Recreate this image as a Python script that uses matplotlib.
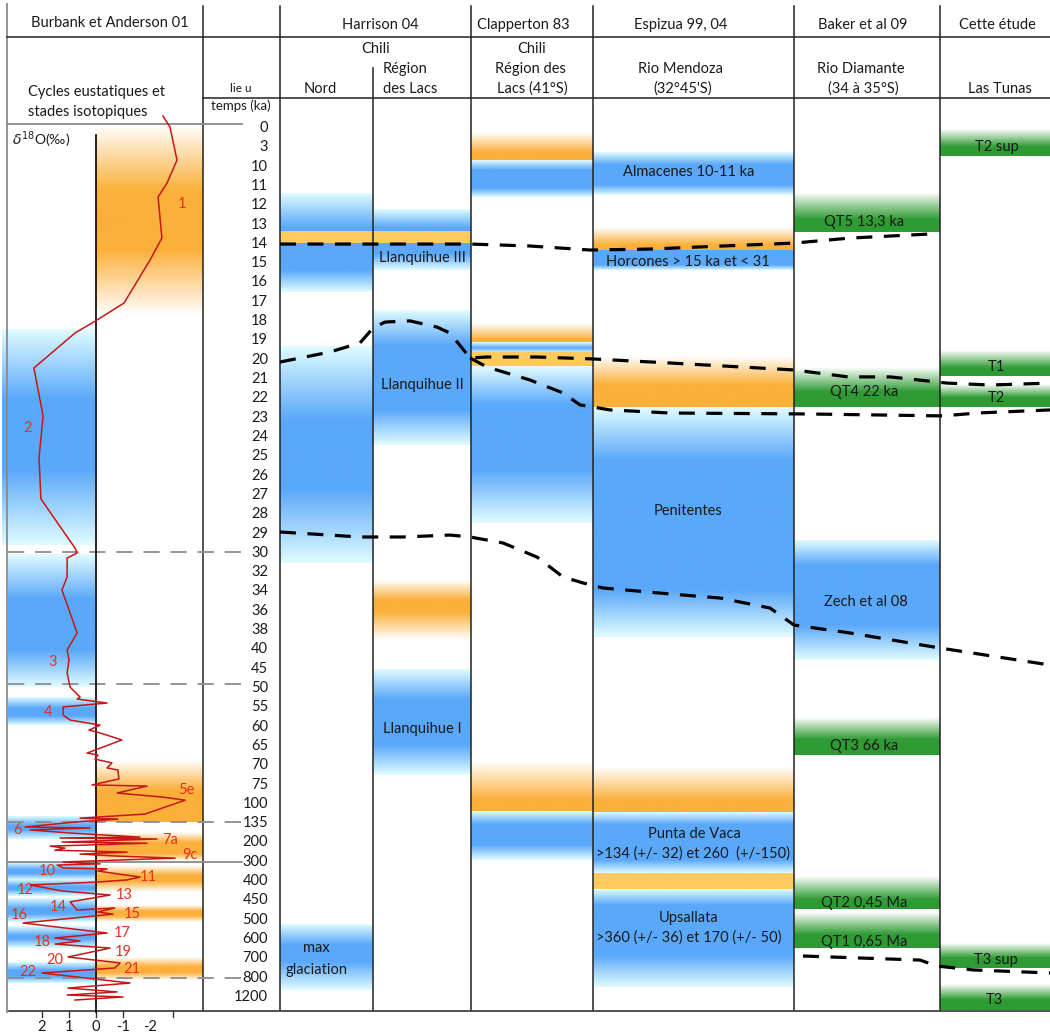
import numpy as np
import matplotlib
matplotlib.use("Agg")
import matplotlib.pyplot as plt
from matplotlib.colors import to_rgb

plt.rcParams["font.family"] = ["Lato", "DejaVu Sans"]

# ---------------------------------------------------------------------------
# layout (pixels) -- the time axis is one row per tick label
# ---------------------------------------------------------------------------
W, H = 1050, 1036
ROW0, ROW_H = 128.0, 19.31          # pixel y of the first row, row spacing
PERMIL_X0, PERMIL_PX = 96.0, 27.0   # pixel x of 0 permil, pixels per permil

def row(y_px):
    """pixel y -> time-row units (for layout items only)"""
    return (y_px - ROW0) / ROW_H

TIME_LABELS = ["0", "3", "10", "11", "12", "13", "14", "15", "16", "17", "18",
               "19", "20", "21", "22", "23", "24", "25", "26", "27", "28", "29",
               "30", "32", "34", "36", "38", "40", "45", "50", "55", "60", "65",
               "70", "75", "100", "135", "200", "300", "400", "450", "500",
               "600", "700", "800", "1200"]

# column x-ranges
COLS = {
    "cold_wide": (2, 95), "cold": (8, 95), "warm": (96, 203),
    "nord": (280, 373), "lacs": (373, 471), "clap": (471, 593),
    "espi": (593, 794), "baker": (794, 940), "etude": (940, 1050),
}

# ---------------------------------------------------------------------------
# data: bands as (kind, top, full_top, full_bottom, bottom) in time rows
# ---------------------------------------------------------------------------
ISO_STAGE2 = [("blue", 10.46, 14.09, 17.71, 21.60)]
ISO_COLD = [("blue", 22.11, 24.44, 27.03, 28.95),
            ("blue", 29.47, 30.05, 30.45, 30.92), ("blue", 35.68, 36.15, 36.35, 36.82),
            ("blue", 38.01, 38.40, 38.60, 38.94), ("blue", 38.94, 39.30, 39.45, 39.77),
            ("blue", 39.88, 40.40, 40.70, 41.12), ("blue", 41.38, 41.85, 42.00, 42.47),
            ("blue", 43.24, 43.65, 43.95, 44.28)]
ISO_WARM = [("orange", -0.21, 3.21, 6.32, 9.68), ("orange", 32.73, 34.28, 35.94, 35.94),
            ("orange", 36.46, 37.00, 37.60, 37.96), ("orange", 38.17, 38.70, 39.00, 39.56),
            ("orange", 40.24, 40.55, 40.80, 41.12), ("orange", 42.98, 43.45, 43.75, 44.12)]
NORD = [("blue", 3.42, 5.18, 5.39, 5.39), ("yellow", 5.39, 5.39, 5.96, 5.96),
        ("blue", 5.96, 5.96, 7.35, 8.49), ("blue", 11.34, 15.12, 18.75, 22.53),
        ("blue", 41.27, 42.31, 43.19, 44.64)]
LACS = [("blue", 4.25, 5.18, 5.39, 5.39), ("yellow", 5.39, 5.39, 5.96, 5.96),
        ("blue", 5.96, 5.96, 6.50, 7.35), ("blue", 9.43, 11.24, 14.60, 16.42),
        ("orange", 23.41, 24.44, 25.07, 26.51), ("blue", 28.07, 29.62, 31.95, 33.51)]
CLAP = [("orange", 0.26, 1.29, 1.66, 1.66), ("blue", 1.66, 2.18, 3.11, 3.57),
        ("orange", 10.10, 10.98, 11.13, 11.13), ("blue", 11.13, 11.40, 11.40, 11.65),
        ("yellow", 11.65, 11.65, 12.33, 12.33), ("blue", 12.33, 14.34, 17.71, 20.46),
        ("orange", 32.83, 34.80, 35.42, 35.42), ("blue", 35.42, 36.09, 37.13, 37.91)]
ESPI = [("blue", 1.29, 1.92, 2.95, 3.47), ("orange", 5.18, 6.06, 6.32, 6.32),
        ("blue", 6.32, 6.32, 7.09, 7.35), ("orange", 11.86, 13.31, 14.45, 14.45),
        ("blue", 14.45, 17.19, 23.93, 26.36), ("orange", 33.09, 34.80, 35.42, 35.42),
        ("blue", 35.47, 36.09, 37.91, 38.58), ("yellow", 38.63, 38.63, 39.41, 39.41),
        ("blue", 39.41, 40.24, 42.83, 44.48)]
BAKER = [("green", 3.37, 4.76, 5.39, 5.39), ("green", 12.38, 13.67, 14.45, 14.45),
         ("blue", 21.34, 22.63, 25.74, 27.55), ("green", 30.55, 31.69, 32.47, 32.47),
         ("green", 38.79, 39.98, 40.45, 40.45), ("green", 40.65, 41.79, 42.47, 42.47)]
ETUDE = [("green", 0.10, 0.98, 1.45, 1.45), ("green", 11.50, 12.43, 12.84, 12.84),
         ("green", 13.31, 13.98, 14.45, 14.45), ("green", 42.21, 42.98, 43.50, 43.50),
         ("green", 44.38, 45.16, 45.68, 45.68)]

# d18O curve (permil, time row)
D18O = [-2.48, -2.74, -3.00, -2.63, -2.30, -2.44, -2.00, -1.04, -0.04, 0.78, 2.30,
        1.96, 2.11, 2.04, 0.78, 0.70, 1.07, 1.07, 1.26, 0.70, 1.07, 1.00, 1.07, 0.96,
        0.59, 0.70, -0.41, 1.22, 1.22, 0.96, -0.15, 0.26, -0.15, -0.96, 0.33, -0.07,
        0.04, -0.59, -0.41, -0.81, -0.85, 0.15, -1.89, -0.78, -2.48, -3.30, -1.81,
        0.59, -0.81, 0.78, 2.63, 0.22, 2.44, 0.96, -1.63, 1.33, -2.26, 1.26, -1.89,
        1.70, 1.15, 1.52, -1.15, 0.59, -0.70, -2.93, 1.22, -0.15, 1.44, 1.22, -0.41,
        -0.07, -1.63, -1.15, -0.04, 2.44, 1.26, -0.52, 0.96, 0.70, -0.70, -0.07,
        -0.63, 2.70, -0.41, 1.52, 0.59, 1.52, -0.52, 1.04, -0.89, -0.70, 2.00, -1.26,
        1.04, -0.78, 1.07, -1.00, 0.78]
D18O_ROW = [-0.62, -0.05, 1.66, 2.85, 3.57, 5.70, 6.84, 9.06, 9.94, 10.62, 12.43,
            14.91, 17.09, 19.21, 21.75, 22.01, 22.27, 23.25, 23.93, 26.15, 27.03, 27.55,
            28.22, 28.95, 29.47, 29.57, 29.78, 29.98, 30.40, 30.66, 30.92, 31.18, 31.33,
            31.69, 32.37, 32.47, 32.68, 32.88, 33.14, 33.25, 33.71, 34.02, 34.08, 34.44,
            34.65, 34.81, 35.53, 35.74, 35.79, 35.94, 36.20, 36.25, 36.35, 36.51, 36.72,
            36.77, 36.82, 36.98, 37.04, 37.19, 37.29, 37.40, 37.50, 37.60, 37.70, 37.81,
            38.01, 38.11, 38.17, 38.32, 38.37, 38.48, 38.79, 38.94, 39.05, 39.20, 39.51,
            39.72, 40.08, 40.50, 40.39, 40.60, 40.71, 41.17, 41.69, 41.95, 42.10, 42.26,
            42.47, 42.93, 43.24, 43.50, 43.76, 44.28, 44.54, 44.74, 44.90, 45.00, 45.16]

STAGES = ["1", "2", "3", "4", "5e", "6", "7a", "9c", "10", "11", "12", "13", "14",
          "15", "16", "17", "18", "19", "20", "21", "22"]
STAGE_XY = [(182, 204), (28, 428), (53, 662), (48, 712), (186, 790), (18, 830),
            (170, 840), (190, 855), (47, 871), (148, 877), (25, 890), (124, 895),
            (58, 907), (132, 914), (19, 915), (122, 933), (42, 942), (123, 952),
            (55, 960), (132, 969), (28, 972)]

# correlation lines (x px, time row)
LINE_14KA = ([280, 470, 530, 590, 650, 700, 794, 850, 930],
             [6.01, 6.01, 6.11, 6.32, 6.27, 6.16, 5.96, 5.70, 5.49])
LINE_LGM_UP = ([280, 330, 360, 373, 385, 410, 437, 450, 462, 470, 487, 537, 593, 670,
                794, 848, 890, 947, 990, 1050],
               [12.12, 11.60, 11.13, 10.36, 10.05, 9.99, 10.31, 10.62, 11.39, 11.91,
                11.86, 11.86, 11.96, 12.17, 12.53, 12.89, 12.89, 13.21, 13.31, 13.21])
LINE_LGM_LOW = ([470, 487, 530, 563, 580, 593, 610, 670, 810, 943, 977, 1050],
                [11.91, 12.38, 13.05, 13.72, 14.34, 14.45, 14.60, 14.76, 14.81, 14.91,
                 14.76, 14.60])
LINE_29KA = ([280, 360, 403, 450, 470, 503, 537, 563, 583, 603, 670, 720, 770, 794,
              850, 940, 1050],
             [20.92, 21.18, 21.18, 21.08, 21.18, 21.49, 22.22, 23.25, 23.56, 23.82,
              24.13, 24.34, 24.86, 25.74, 26.15, 26.93, 27.81])
LINE_T3 = ([803, 920, 937, 973, 1050], [42.88, 43.09, 43.40, 43.60, 43.76])

BAND_LABELS = [
    ("Llanquihue III", 422, 258), ("Llanquihue II", 422, 385), ("Llanquihue I", 422, 729),
    ("max", 316, 948), ("glaciation", 316, 970),
    ("Almacenes 10-11 ka", 689, 172), ("Horcones > 15 ka et < 31", 688, 262),
    ("Penitentes", 688, 511), ("Punta de Vaca", 694, 834),
    (">134 (+/- 32) et 260  (+/-150)", 693, 854), ("Upsallata", 689, 918),
    (">360 (+/- 36) et 170 (+/- 50)", 689, 938),
    ("QT5 13,3 ka", 864, 222), ("QT4 22 ka", 864, 392), ("Zech et al 08", 866, 602),
    ("QT3 66 ka", 864, 746), ("QT2 0,45 Ma", 864, 903), ("QT1 0,65 Ma", 864, 942),
    ("T2 sup", 997, 147), ("T1", 996, 367), ("T2", 996, 398), ("T3 sup", 996, 960),
    ("T3", 994, 1000),
]
HEADERS = [("Burbank et Anderson 01", 110, 23), ("Harrison 04", 380, 25),
           ("Clapperton 83", 523, 25), ("Espizua 99, 04", 681, 25),
           ("Baker et al 09", 863, 25), ("Cette étude", 997, 25),
           ("Chili", 376, 49), ("Région", 405, 69), ("des Lacs", 410, 89), ("Nord", 320, 89),
           ("Chili", 532, 49), ("Région des", 530, 69), ("Lacs (41°S)", 532, 89),
           ("Rio Mendoza", 681, 69), ("(32°45'S)", 683, 89),
           ("Rio Diamante", 861, 69), ("(34 à 35°S)", 863, 89), ("Las Tunas", 1000, 89)]

# ---------------------------------------------------------------------------
# styling
# ---------------------------------------------------------------------------
FULL = {"blue": "#5aa8fa", "orange": "#fbb03b", "green": "#2e9b33", "yellow": "#fdcb60"}
EDGE = {"blue": "#e0fcff", "orange": "#ffffff", "green": "#ffffff", "yellow": "#fdcb60"}
RED = "#c81616"
STAGE_RED = "#e5321f"
INK = "#1a1a1a"
DASH_KW = dict(color="black", lw=2.3, linestyle=(0, (5, 3.6)), zorder=6,
               solid_capstyle="butt", dash_capstyle="butt")
GREY_DASH = dict(color="#8c8c8c", lw=1.3, linestyle=(0, (9, 6)), zorder=5)


def draw_band(ax, cols, kind, top, ftop, fbot, bot):
    x0, x1 = cols
    full = np.array(to_rgb(FULL[kind]))
    edge = np.array(to_rgb(EDGE[kind]))
    ys = np.linspace(top, bot, 240)
    w = np.ones_like(ys)
    if ftop > top:
        w = np.where(ys < ftop, (ys - top) / (ftop - top), w)
    if bot > fbot:
        w = np.where(ys > fbot, np.minimum(w, (bot - ys) / (bot - fbot)), w)
    w = np.clip(w, 0, 1)[:, None]
    img = edge[None, :] * (1 - w) + full[None, :] * w
    ax.imshow(img[:, None, :], extent=(x0, x1, bot, top), aspect="auto",
              interpolation="bilinear", zorder=1)


fig = plt.figure(figsize=(W / 100, H / 100), dpi=100)
ax = fig.add_axes([0, 0, 1, 1])

for col, bands in [("cold_wide", ISO_STAGE2), ("cold", ISO_COLD), ("warm", ISO_WARM),
                   ("nord", NORD), ("lacs", LACS), ("clap", CLAP), ("espi", ESPI),
                   ("baker", BAKER), ("etude", ETUDE)]:
    for kind, top, ftop, fbot, bot in bands:
        draw_band(ax, COLS[col], kind, top, ftop, fbot, bot)

# ---- frame lines ----------------------------------------------------------
line_kw = dict(color="#222222", lw=1.1, zorder=4)
for x in [203, 280, 471, 593, 794, 940]:
    ax.plot([x, x], [row(6), row(1010)], **line_kw)
ax.plot([373, 373], [row(68), row(1010)], **line_kw)
ax.plot([7, 7], [row(4), row(1012)], color="#8a8a8a", lw=1.3, zorder=4)
ax.plot([7, W], [row(37), row(37)], **line_kw)
ax.plot([203, W], [row(98), row(98)], **line_kw)
ax.plot([9, W], [row(1011), row(1011)], color="#333333", lw=1.2, zorder=4)
ax.plot([7, 242], [row(124), row(124)], color="#8a8a8a", lw=1.3, zorder=4)
ax.plot([7, 242], [row(862), row(862)], color="#8a8a8a", lw=1.3, zorder=5)
for yy in [552, 684, 822, 978]:
    ax.plot([8, 242], [row(yy), row(yy)], **GREY_DASH)

# ---- correlation lines ----------------------------------------------------
for xs, ys in [LINE_14KA, LINE_LGM_UP, LINE_LGM_LOW, LINE_29KA, LINE_T3]:
    ax.plot(xs, ys, **DASH_KW)

# ---- time labels ----------------------------------------------------------
for i, lab in enumerate(TIME_LABELS):
    ax.text(268, i, lab, ha="right", va="center", fontsize=10.5, color=INK)
ax.text(241, row(89), "lie u", ha="center", va="center", fontsize=8.5, color=INK)
ax.text(241, row(106), "temps (ka)", ha="center", va="center", fontsize=9.5, color=INK)

# ---- headers --------------------------------------------------------------
for txt, x, y in HEADERS:
    ax.text(x, row(y), txt, ha="center", va="center", fontsize=10.5, color=INK)
ax.text(28, row(92), "Cycles eustatiques et", ha="left", va="center", fontsize=10.5,
        color=INK)
ax.text(28, row(112), "stades isotopiques", ha="left", va="center", fontsize=10.5,
        color=INK)

for txt, x, y in BAND_LABELS:
    ax.text(x, row(y), txt, ha="center", va="center", fontsize=10.5, color=INK,
            zorder=7)

ax.set_xlim(0, W)
ax.set_ylim(row(H), row(0))
ax.axis("off")

# ---- d18O panel (own permil scale, same time rows) ------------------------
axd = fig.add_axes([0, 0, 1, 1])
axd.patch.set_alpha(0)
axd.plot([0, 0], [row(135), row(1012)], color="black", lw=1.2, zorder=3)
axd.plot(D18O, D18O_ROW, color=RED, lw=1.1, zorder=4)
for v, lab in zip([2, 1, 0, -1, -2], ["2", "1", "0", "-1", "-2"]):
    axd.text(v, row(1027), lab, ha="center", va="center", fontsize=10.5, color=INK)
for v in [2, 1, 0, -1, -2.85]:
    axd.plot([v, v], [row(1011), row(1017)], color="#333333", lw=1.0)
for lab, (x, y) in zip(STAGES, STAGE_XY):
    ax.text(x, row(y), lab, ha="center", va="center", fontsize=10.5, color=STAGE_RED,
            zorder=8)
ax.text(12, row(140), r"$\delta^{18}$O(‰)", ha="left", va="center", fontsize=10,
        color=INK)
axd.set_xlim(PERMIL_X0 / PERMIL_PX, (PERMIL_X0 - W) / PERMIL_PX)
axd.set_ylim(row(H), row(0))
axd.axis("off")

fig.savefig("out.png", dpi=100, facecolor="white")
